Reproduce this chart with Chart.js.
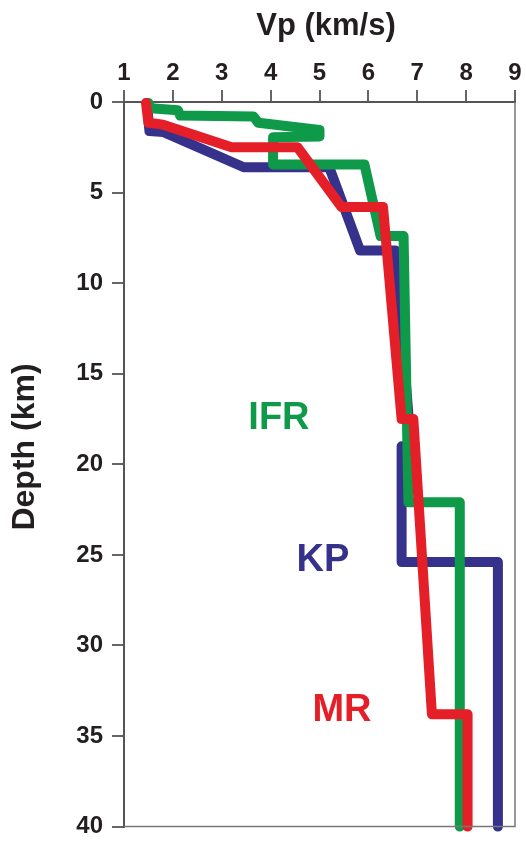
<!DOCTYPE html>
<html>
<head>
<meta charset="utf-8">
<script src="https://cdn.jsdelivr.net/npm/chart.js@4"></script>
<style>
  html, body { margin: 0; padding: 0; background: #fff; }
  canvas { display: block; }
</style>
</head>
<body>
<canvas id="myChart" width="526" height="850"></canvas>
<script>
// velocity profiles, Vp (km/s) against depth (km)
const vpIFR = [1.5, 1.55, 2.1, 2.15, 3.65, 3.75, 5.0, 5.0, 4.05, 4.05, 5.92, 6.25, 6.72, 6.82, 7.87, 7.87];
const depthIFR = [0.05, 0.35, 0.45, 0.75, 0.8, 1.15, 1.55, 1.9, 1.95, 3.45, 3.45, 7.4, 7.4, 22.1, 22.1, 40];

const vpKP = [1.47, 1.52, 1.8, 3.45, 5.2, 5.83, 6.55, 6.87, 6.68, 6.68, 8.65, 8.65];
const depthKP = [0.05, 1.6, 1.65, 3.6, 3.6, 8.2, 8.2, 19.0, 19.0, 25.4, 25.4, 40];

const vpMR = [1.45, 1.5, 1.8, 3.2, 4.55, 5.45, 6.3, 6.68, 6.92, 7.3, 8.03, 8.03];
const depthMR = [0.05, 1.15, 1.25, 2.5, 2.5, 5.8, 5.8, 17.5, 17.5, 33.8, 33.8, 40];

const vpTicks = [1, 2, 3, 4, 5, 6, 7, 8, 9];
const depthTicks = [0, 5, 10, 15, 20, 25, 30, 35, 40];

// in-plot profile names and where they sit (data units)
const labelNames = ["IFR", "KP", "MR"];
const labelVp = [4.17, 5.07, 5.46];
const labelDepth = [17.5, 25.3, 33.6];

const green = "#0e9a48";
const blue = "#36328c";
const red = "#e41f27";
const labelColors = [green, blue, red];

const fontFamily = "'Liberation Sans', Arial, sans-serif";

const toPoints = (xs, ys) => xs.map((x, i) => ({ x: x, y: ys[i] }));

const lineStyle = (color) => ({
  borderColor: color,
  backgroundColor: color,
  borderWidth: 10,
  pointRadius: 0,
  showLine: true,
  tension: 0,
  borderCapStyle: "round",
  borderJoinStyle: "round",
  clip: false,
});

const extras = {
  id: "extras",
  afterDraw(chart) {
    const ctx = chart.ctx;
    const area = chart.chartArea;
    const xs = chart.scales.x;
    const ys = chart.scales.y;

    ctx.save();
    // right and bottom frame lines
    ctx.strokeStyle = "#777";
    ctx.lineWidth = 1.5;
    ctx.beginPath();
    ctx.moveTo(area.right, area.top);
    ctx.lineTo(area.right, area.bottom);
    ctx.lineTo(area.left, area.bottom);
    ctx.stroke();

    // axis titles
    ctx.fillStyle = "#231f20";
    ctx.font = "bold 31px " + fontFamily;
    ctx.textAlign = "center";
    ctx.textBaseline = "alphabetic";
    ctx.fillText("Vp (km/s)", 326, 35);

    ctx.save();
    ctx.translate(34, 447);
    ctx.rotate(-Math.PI / 2);
    ctx.font = "bold 32px " + fontFamily;
    ctx.fillText("Depth (km)", 0, 0);
    ctx.restore();

    // profile names
    ctx.font = "bold 38px " + fontFamily;
    ctx.textBaseline = "middle";
    labelNames.forEach((name, i) => {
      ctx.fillStyle = labelColors[i];
      ctx.fillText(name, xs.getPixelForValue(labelVp[i]), ys.getPixelForValue(labelDepth[i]));
    });
    ctx.restore();
  },
};

const ctx = document.getElementById("myChart");

const myChart = new Chart(ctx, {
  type: "scatter",
  data: {
    datasets: [
      { label: "MR", data: toPoints(vpMR, depthMR), ...lineStyle(red) },
      { label: "IFR", data: toPoints(vpIFR, depthIFR), ...lineStyle(green) },
      { label: "KP", data: toPoints(vpKP, depthKP), ...lineStyle(blue) },
    ],
  },
  options: {
    responsive: false,
    animation: false,
    devicePixelRatio: 1,
    layout: {
      padding: { left: 0, top: 0, right: 11, bottom: 14 },
    },
    plugins: {
      legend: { display: false },
      tooltip: { enabled: false },
    },
    scales: {
      x: {
        type: "linear",
        position: "top",
        min: 1,
        max: 9,
        afterBuildTicks: (scale) => {
          scale.ticks = vpTicks.map((v) => ({ value: v }));
        },
        afterFit: (scale) => {
          scale.height = 102;
        },
        ticks: {
          color: "#231f20",
          padding: 2,
          maxRotation: 0,
          font: { family: fontFamily, size: 24, weight: "bold" },
        },
        grid: {
          drawOnChartArea: false,
          tickLength: 12,
          color: "#666",
          lineWidth: 2,
        },
        border: { display: true, color: "#555", width: 2 },
      },
      y: {
        type: "linear",
        reverse: true,
        min: 0,
        max: 40,
        afterBuildTicks: (scale) => {
          scale.ticks = depthTicks.map((v) => ({ value: v }));
        },
        afterFit: (scale) => {
          scale.width = 124;
        },
        ticks: {
          color: "#231f20",
          padding: 9,
          font: { family: fontFamily, size: 24, weight: "bold" },
        },
        grid: {
          drawOnChartArea: false,
          tickLength: 12,
          color: "#666",
          lineWidth: 2,
        },
        border: { display: true, color: "#555", width: 2 },
      },
    },
  },
  plugins: [extras],
});
</script>
</body>
</html>
